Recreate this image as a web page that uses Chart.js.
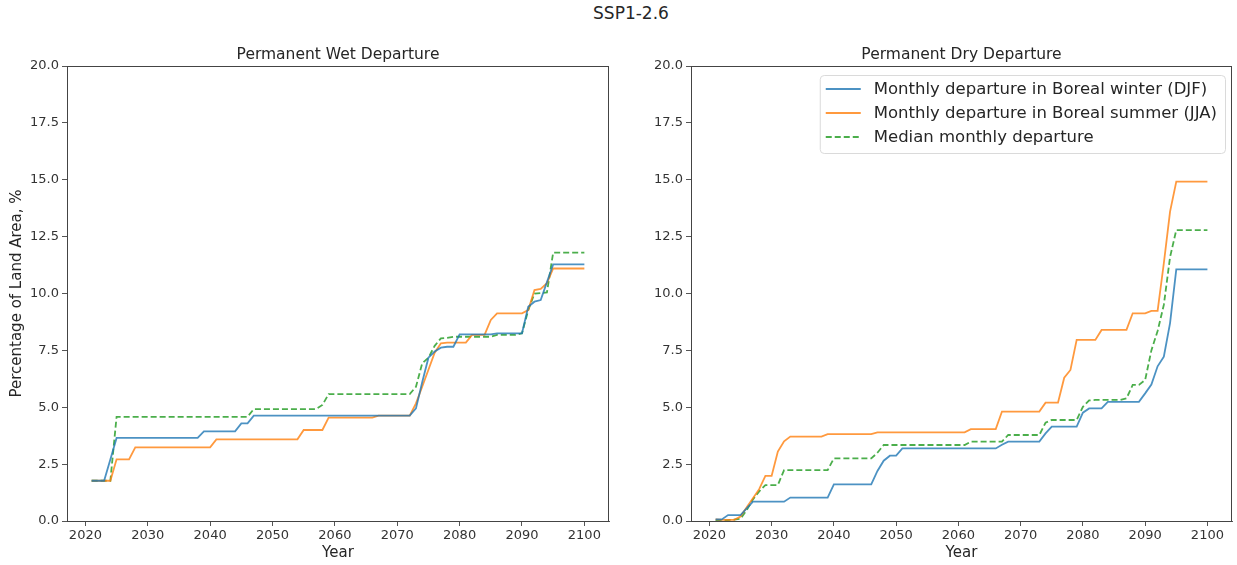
<!DOCTYPE html>
<html>
<head>
<meta charset="utf-8">
<script src="https://cdn.jsdelivr.net/npm/chart.js@4.4.1/dist/chart.umd.min.js"></script>
<style>
  body { margin: 0; background: #fff; width: 1237px; height: 565px; overflow: hidden; position: relative; }
  #suptitle { position: absolute; left: 531px; width: 200px; top: 3px; text-align: center;
    font: 17px "DejaVu Sans", sans-serif; color: #262626; }
  #wetChart { position: absolute; left: 0; top: 0; }
  #dryChart { position: absolute; left: 620px; top: 0; }
</style>
</head>
<body>
<div id="suptitle">SSP1-2.6</div>
<canvas id="wetChart" width="620" height="565"></canvas>
<canvas id="dryChart" width="617" height="565"></canvas>
<script>
// years 2021..2100, one value per year
const years = Array.from({ length: 80 }, (_, i) => 2021 + i);
const xTicks = [2020, 2030, 2040, 2050, 2060, 2070, 2080, 2090, 2100];

const seriesLabels = [
    "Monthly departure in Boreal winter (DJF)",
    "Monthly departure in Boreal summer (JJA)",
    "Median monthly departure",
];

// Permanent Wet Departure
const wetDJF = [
    1.77, 1.77, 1.77, 2.7, 3.65, 3.65, 3.65, 3.65, 3.65, 3.65,
    3.65, 3.65, 3.65, 3.65, 3.65, 3.65, 3.65, 3.65, 3.94, 3.94,
    3.94, 3.94, 3.94, 3.94, 4.29, 4.29, 4.63, 4.63, 4.63, 4.63,
    4.63, 4.63, 4.63, 4.63, 4.63, 4.63, 4.63, 4.63, 4.63, 4.63,
    4.63, 4.63, 4.63, 4.63, 4.63, 4.63, 4.63, 4.63, 4.63, 4.63,
    4.63, 4.63, 4.95, 6.1, 7.18, 7.45, 7.62, 7.66, 7.66, 8.2,
    8.2, 8.2, 8.2, 8.2, 8.2, 8.25, 8.25, 8.25, 8.25, 8.25,
    9.42, 9.64, 9.71, 10.5, 11.28, 11.28, 11.28, 11.28, 11.28, 11.28,
];
const wetJJA = [
    1.77, 1.77, 1.77, 1.77, 2.71, 2.71, 2.71, 3.24, 3.24, 3.24,
    3.24, 3.24, 3.24, 3.24, 3.24, 3.24, 3.24, 3.24, 3.24, 3.24,
    3.59, 3.59, 3.59, 3.59, 3.59, 3.59, 3.59, 3.59, 3.59, 3.59,
    3.59, 3.59, 3.59, 3.59, 4.0, 4.0, 4.0, 4.0, 4.54, 4.54,
    4.54, 4.54, 4.54, 4.54, 4.54, 4.54, 4.63, 4.63, 4.63, 4.63,
    4.63, 4.63, 5.17, 5.9, 6.65, 7.4, 7.81, 7.84, 7.84, 7.84,
    7.84, 8.18, 8.18, 8.18, 8.84, 9.13, 9.13, 9.13, 9.13, 9.13,
    9.27, 10.15, 10.2, 10.45, 11.1, 11.1, 11.1, 11.1, 11.1, 11.1,
];
const wetMedian = [
    1.77, 1.77, 1.77, 1.77, 4.58, 4.58, 4.58, 4.58, 4.58, 4.58,
    4.58, 4.58, 4.58, 4.58, 4.58, 4.58, 4.58, 4.58, 4.58, 4.58,
    4.58, 4.58, 4.58, 4.58, 4.58, 4.58, 4.92, 4.92, 4.92, 4.92,
    4.92, 4.92, 4.92, 4.92, 4.92, 4.92, 4.92, 5.1, 5.58, 5.58,
    5.58, 5.58, 5.58, 5.58, 5.58, 5.58, 5.58, 5.58, 5.58, 5.58,
    5.58, 5.58, 5.9, 6.93, 7.18, 7.7, 8.03, 8.05, 8.1, 8.1,
    8.1, 8.1, 8.1, 8.1, 8.1, 8.18, 8.18, 8.18, 8.18, 8.25,
    9.27, 10.0, 10.02, 10.05, 11.8, 11.8, 11.8, 11.8, 11.8, 11.8,
];

// Permanent Dry Departure
const dryDJF = [
    0.07, 0.07, 0.26, 0.26, 0.26, 0.55, 0.85, 0.85, 0.85, 0.85,
    0.85, 0.85, 1.03, 1.03, 1.03, 1.03, 1.03, 1.03, 1.03, 1.61,
    1.61, 1.61, 1.61, 1.61, 1.61, 1.61, 2.2, 2.65, 2.87, 2.87,
    3.19, 3.19, 3.19, 3.19, 3.19, 3.19, 3.19, 3.19, 3.19, 3.19,
    3.19, 3.19, 3.19, 3.19, 3.19, 3.19, 3.35, 3.49, 3.49, 3.49,
    3.49, 3.49, 3.49, 3.85, 4.15, 4.15, 4.15, 4.15, 4.15, 4.76,
    4.95, 4.95, 4.95, 5.24, 5.24, 5.24, 5.24, 5.24, 5.24, 5.61,
    6.0, 6.8, 7.22, 8.7, 11.06, 11.06, 11.06, 11.06, 11.06, 11.06,
];
const dryJJA = [
    0.07, 0.05, 0.05, 0.05, 0.2, 0.6, 1.0, 1.4, 1.98, 1.98,
    3.05, 3.5, 3.71, 3.71, 3.71, 3.71, 3.71, 3.71, 3.82, 3.82,
    3.82, 3.82, 3.82, 3.82, 3.82, 3.82, 3.9, 3.9, 3.9, 3.9,
    3.9, 3.9, 3.9, 3.9, 3.9, 3.9, 3.9, 3.9, 3.9, 3.9,
    3.9, 4.04, 4.04, 4.04, 4.04, 4.04, 4.81, 4.81, 4.81, 4.81,
    4.81, 4.81, 4.81, 5.2, 5.2, 5.2, 6.3, 6.64, 7.96, 7.96,
    7.96, 7.96, 8.4, 8.4, 8.4, 8.4, 8.4, 9.13, 9.13, 9.13,
    9.24, 9.24, 11.33, 13.6, 14.92, 14.92, 14.92, 14.92, 14.92, 14.92,
];
const dryMedian = [
    0.02, 0.02, 0.04, 0.06, 0.1, 0.48, 0.95, 1.3, 1.58, 1.58,
    1.58, 2.24, 2.24, 2.24, 2.24, 2.24, 2.24, 2.24, 2.24, 2.75,
    2.75, 2.75, 2.75, 2.75, 2.75, 2.75, 3.0, 3.34, 3.34, 3.34,
    3.34, 3.34, 3.34, 3.34, 3.34, 3.34, 3.34, 3.34, 3.34, 3.34,
    3.34, 3.49, 3.49, 3.49, 3.49, 3.49, 3.49, 3.78, 3.78, 3.78,
    3.78, 3.78, 3.78, 4.32, 4.44, 4.44, 4.44, 4.44, 4.44, 5.02,
    5.3, 5.32, 5.32, 5.32, 5.32, 5.32, 5.39, 5.98, 5.98, 6.2,
    7.5, 8.35, 9.5, 11.6, 12.79, 12.79, 12.79, 12.79, 12.79, 12.79,
];

Chart.defaults.font.family = "'DejaVu Sans', sans-serif";
Chart.defaults.color = "#262626";

// draws the four spines around the plot area
const framePlugin = {
    id: "frame",
    afterDatasetsDraw(chart) {
        const a = chart.chartArea;
        const ctx = chart.ctx;
        ctx.save();
        ctx.strokeStyle = "#444";
        ctx.lineWidth = 1;
        ctx.strokeRect(Math.round(a.left) + 0.5, Math.round(a.top) + 0.5,
            Math.round(a.right - a.left) - 1, Math.round(a.bottom - a.top));
        ctx.restore();
    },
};

// matplotlib style legend inside the axes, upper right
const boxLegend = {
    id: "boxLegend",
    afterDraw(chart, args, opts) {
        if (!opts.show) return;
        const ctx = chart.ctx;
        const a = chart.chartArea;
        ctx.save();
        ctx.font = "16.5px 'DejaVu Sans'";
        const sets = chart.data.datasets;
        let maxW = 0;
        sets.forEach((d) => { maxW = Math.max(maxW, ctx.measureText(d.label).width); });
        const w = 54 + maxW + 8;
        const h = 78;
        const x = a.right - 7 - w;
        const y = a.top + 9;
        ctx.beginPath();
        ctx.roundRect(x + 0.5, y + 0.5, w, h, 4);
        ctx.fillStyle = "rgba(255,255,255,0.8)";
        ctx.fill();
        ctx.strokeStyle = "#dadada";
        ctx.lineWidth = 1;
        ctx.stroke();
        sets.forEach((d, i) => {
            const ry = y + 14 + i * 24;
            ctx.beginPath();
            ctx.setLineDash(d.borderDash || []);
            ctx.strokeStyle = d.borderColor;
            ctx.lineWidth = d.borderWidth;
            ctx.moveTo(x + 6, ry);
            ctx.lineTo(x + 41, ry);
            ctx.stroke();
            ctx.setLineDash([]);
            ctx.fillStyle = "#262626";
            ctx.textBaseline = "middle";
            ctx.fillText(d.label, x + 54, ry + 1);
        });
        ctx.restore();
    },
};

function makeSets(djf, jja, med) {
    const pts = (vals) => years.map((yr, i) => ({ x: yr, y: vals[i] }));
    return [
        { label: seriesLabels[0], data: pts(djf), borderColor: "rgba(31,119,180,0.8)", borderWidth: 1.8 },
        { label: seriesLabels[1], data: pts(jja), borderColor: "rgba(255,127,14,0.8)", borderWidth: 1.8 },
        { label: seriesLabels[2], data: pts(med), borderColor: "rgba(44,160,44,0.85)", borderWidth: 1.8, borderDash: [6, 3] },
    ];
}

function makeChart(id, title, sets, yWidth, padRight, yTitle, legend) {
    const tickGrid = {
        display: true,
        drawOnChartArea: false,
        drawTicks: true,
        tickLength: 5,
        color: "#555",
    };
    return new Chart(document.getElementById(id), {
        type: "line",
        data: { datasets: sets },
        options: {
            responsive: false,
            animation: false,
            layout: { padding: { top: 0, right: padRight, bottom: 0, left: 0 } },
            elements: { point: { radius: 0 }, line: { tension: 0, fill: false } },
            scales: {
                x: {
                    type: "linear",
                    min: 2017.05,
                    max: 2103.95,
                    afterBuildTicks: (s) => { s.ticks = xTicks.map((v) => ({ value: v })); },
                    afterFit: (s) => { s.height = 44; },
                    ticks: { font: { size: 13 }, color: "#333", padding: 2, maxRotation: 0,
                        callback: (v) => String(v) },
                    grid: tickGrid,
                    border: { display: true, color: "#555" },
                    title: { display: true, text: "Year", font: { size: 15 }, color: "#262626",
                        padding: { top: 0, bottom: 3 } },
                },
                y: {
                    min: 0,
                    max: 20,
                    afterFit: (s) => { s.width = yWidth; },
                    ticks: { stepSize: 2.5, font: { size: 13 }, color: "#333", padding: 3,
                        callback: (v) => v.toFixed(1) },
                    grid: tickGrid,
                    border: { display: true, color: "#555" },
                    title: { display: yTitle !== "", text: yTitle, font: { size: 15 }, color: "#262626",
                        padding: { top: 8, bottom: 0 } },
                },
            },
            plugins: {
                legend: { display: false },
                tooltip: { enabled: false },
                title: {
                    display: true,
                    text: title,
                    fullSize: false,
                    font: { size: 15.5, weight: "normal" },
                    color: "#262626",
                    padding: { top: 45.7, bottom: 1.7 },
                },
                boxLegend: { show: legend },
            },
        },
        plugins: [framePlugin, boxLegend],
    });
}

makeChart("wetChart", "Permanent Wet Departure", makeSets(wetDJF, wetJJA, wetMedian),
    67, 11, "Percentage of Land Area, %", false);
makeChart("dryChart", "Permanent Dry Departure", makeSets(dryDJF, dryJJA, dryMedian),
    71, 5, "", true);
</script>
</body>
</html>
